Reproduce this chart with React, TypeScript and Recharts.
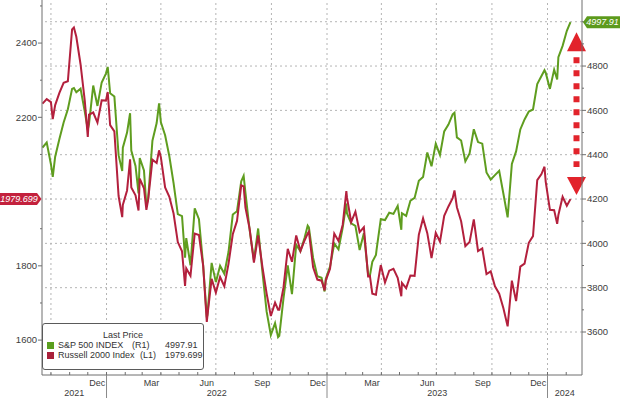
import React from 'react';
import { LineChart, Line, XAxis, YAxis, ReferenceLine, Legend } from 'recharts';

const DAY = 86400000;
const ORIGIN = Date.UTC(2021, 8, 1);
const dayOf = (ms: number) => (ms - ORIGIN) / DAY;

// weekly closes from Fri 17 Sep 2021, last point Thu 8 Feb 2024
const firstDate = Date.UTC(2021, 8, 17);
const lastDate = Date.UTC(2024, 1, 8);

const spx = [
  4432, 4455, 4357, 4391, 4471, 4545, 4605, 4697, 4682, 4698, 4595, 4538, 4712, 4620, 4726, 4766,
  4677, 4663, 4398, 4432, 4500, 4419, 4349, 4385, 4329, 4204, 4463, 4543, 4546, 4488, 4393, 4272,
  4132, 4123, 4024, 3901, 4158, 4109, 3901, 3675, 3912, 3825, 3899, 3863, 3962, 4130, 4145, 4280,
  4228, 4058, 3924, 4067, 3873, 3693, 3586, 3640, 3583, 3753, 3901, 3771, 3993, 3965, 4026, 4072,
  3934, 3852, 3845, 3840,
  3895, 3999, 3973, 4071, 4136, 4090, 4079, 3970, 4046, 3862, 3917, 3971, 4109, 4105, 4138, 4133,
  4169, 4136, 4124, 4192, 4205, 4282, 4299, 4410, 4348, 4450, 4399, 4505, 4536, 4582, 4478, 4464,
  4370, 4406, 4515, 4457, 4450, 4320, 4288, 4308, 4327, 4224, 4117, 4358, 4415, 4514, 4559, 4595,
  4604, 4719, 4755, 4770,
  4697, 4784, 4840, 4891, 4959, 4997.91,
];

const rty = [
  2237, 2249, 2241, 2233, 2266, 2293, 2297, 2437, 2417, 2343, 2245, 2207, 2213, 2186, 2246, 2245,
  2179, 2162, 1988, 1964, 2003, 2011, 1990, 2035, 2009, 1979, 2086, 2077, 2092, 2011, 1986, 1941,
  1864, 1839, 1793, 1773, 1887, 1883, 1800, 1665, 1765, 1728, 1770, 1745, 1806, 1885, 1921, 2017,
  1957, 1899, 1809, 1882, 1798, 1726, 1665, 1701, 1682, 1742, 1846, 1811, 1882, 1840, 1869, 1892,
  1796, 1763, 1760, 1761,
  1792, 1887, 1867, 1911, 1985, 1918, 1946, 1891, 1904, 1772, 1725, 1734, 1802, 1755, 1787, 1792,
  1768, 1754, 1740, 1774, 1773, 1884, 1928, 1888, 1821, 1889, 1865, 1935, 1960, 1982, 1958, 1920,
  1853, 1864, 1925, 1840, 1847, 1778, 1785, 1745, 1725, 1686, 1637, 1760, 1705, 1798, 1806, 1862,
  1880, 2031, 2047, 2027,
  1951, 1950, 1937, 1986, 1962, 1979.699,
];

// extra daily turning points between weekly closes
const extraDates = [
  '2021-10-04', '2021-11-08', '2021-12-01', '2022-01-03', '2022-01-27', '2022-02-09', '2022-02-23',
  '2022-03-08', '2022-03-29', '2022-05-11', '2022-06-16', '2022-08-16', '2022-10-12', '2022-11-30',
  '2022-12-28', '2023-02-02', '2023-03-13', '2023-03-23', '2023-05-04', '2023-07-31', '2023-12-27',
  '2024-01-17',
];
const extraSpx = [
  4300, 4701, 4513, 4796, 4326, 4587, 4225, 4170, 4632, 3935, 3666, 4305, 3577, 4080, 3783, 4180,
  3855, 3948, 4061, 4589, 4781, 4739,
];
const extraRty = [
  2195, 2442, 2147, 2268, 1931, 2087, 1949, 1951, 2111, 1746, 1649, 2014, 1682, 1887, 1734, 2001,
  1773, 1722, 1718, 2003, 2067, 1913,
];

const spxName = 'S&P 500 INDEX';
const rtyName = 'Russell 2000 Index';
const spxLast = spx[spx.length - 1];
const rtyLast = rty[rty.length - 1];

const leftTicks = [1600, 1700, 1800, 1900, 2100, 2200, 2300, 2400, 2500];
const rightTicks = [3600, 3700, 3800, 3900, 4000, 4100, 4200, 4300, 4400, 4500, 4600, 4700, 4800, 4900, 5000];
const gridValues = [3600, 3800, 4000, 4200, 4400, 4600, 4800, 5000];
const quarterMonthLabels: Record<number, string> = { 11: 'Dec', 2: 'Mar', 5: 'Jun', 8: 'Sep' };
const years = [2021, 2022, 2023, 2024];

const xDomain = [15.2, 909.1];
const leftDomain = [1506, 2516];
const rightDomain = [3406, 5098];

const isoDay = (s: string) => {
  const [y, m, d] = s.split('-').map(Number);
  return dayOf(Date.UTC(y, m - 1, d));
};

const data = [
  ...spx.map((v, i) => ({
    d: i === spx.length - 1 ? dayOf(lastDate) : dayOf(firstDate) + 7 * i,
    spx: v,
    rty: rty[i],
  })),
  ...extraDates.map((s, i) => ({ d: isoDay(s), spx: extraSpx[i], rty: extraRty[i] })),
].sort((a, b) => a.d - b.d);

// calendar ticks
type TickInfo = { kind: 'month' | 'mlabel' | 'year'; label?: string; jan?: boolean };
const xTickInfo = new Map<number, TickInfo>();
const quarterStarts: number[] = [];
{
  let y = 2021, m = 9;
  while (y < 2024 || (y === 2024 && m <= 1)) {
    const d = dayOf(Date.UTC(y, m, 1));
    xTickInfo.set(d, { kind: 'month', jan: m === 0 });
    if (m % 3 === 0) quarterStarts.push(d);
    if (quarterMonthLabels[m]) {
      const len = new Date(Date.UTC(y, m + 1, 0)).getUTCDate();
      xTickInfo.set(d + len / 2, { kind: 'mlabel', label: quarterMonthLabels[m] });
    }
    m++;
    if (m > 11) { m = 0; y++; }
  }
  years.forEach((yr) => {
    const a = Math.max(xDomain[0], dayOf(Date.UTC(yr, 0, 1)));
    const b = Math.min(xDomain[1], dayOf(Date.UTC(yr + 1, 0, 1)));
    xTickInfo.set((a + b) / 2, { kind: 'year', label: String(yr) });
  });
}
const xTicks = Array.from(xTickInfo.keys()).sort((a, b) => a - b);

const FONT = '"Liberation Sans", Arial, sans-serif';
const GREEN = '#5f9d1f';
const RED = '#b3203d';
const AXIS = '#6e6e6e';
const TEXT = '#3c3c3c';

const XTick = (props: any) => {
  const { x, y, payload } = props;
  const info = xTickInfo.get(payload.value);
  if (!info) return null;
  if (info.kind === 'month') {
    return (
      <g>
        <line x1={x} x2={x} y1={y - 3} y2={y} stroke={AXIS} />
        {info.jan && <line x1={x} x2={x} y1={y} y2={y + 23} stroke="#8a8a8a" />}
      </g>
    );
  }
  return (
    <text x={x} y={y + (info.kind === 'mlabel' ? 10.5 : 21)} textAnchor="middle" fontSize={9} fill={TEXT} fontFamily={FONT}>
      {info.label}
    </text>
  );
};

const LeftTick = (props: any) => {
  const { x, y, payload } = props;
  const v = payload.value;
  if (v === rtyLast) {
    return (
      <g>
        <path d={`M${x - 44} ${y - 6} H${x - 5} L${x - 0.5} ${y} L${x - 5} ${y + 6} H${x - 44} Z`} fill="#c3213d" />
        <text x={x - 23} y={y} dy="0.35em" textAnchor="middle" fontSize={9} fontStyle="italic" fill="#fff" fontFamily={FONT}>
          {String(v)}
        </text>
      </g>
    );
  }
  const major = v % 200 === 0;
  return (
    <g>
      <line x1={x - (major ? 4 : 2)} x2={x} y1={y} y2={y} stroke={AXIS} />
      {major && (
        <text x={x - 5} y={y} dy="0.35em" textAnchor="end" fontSize={9.5} fill={TEXT} fontFamily={FONT}>
          {v}
        </text>
      )}
    </g>
  );
};

const RightTick = (props: any) => {
  const { x, y, payload } = props;
  const v = payload.value;
  if (v === spxLast) {
    return (
      <g>
        <path d={`M${x + 1} ${y} L${x + 5} ${y - 6} H${x + 40} V${y + 6} H${x + 5} Z`} fill="#5c9a1c" />
        <text x={x + 20.5} y={y} dy="0.35em" textAnchor="middle" fontSize={9} fontStyle="italic" fill="#fff" fontFamily={FONT}>
          {String(v)}
        </text>
      </g>
    );
  }
  const major = v % 200 === 0;
  return (
    <g>
      <line x1={x} x2={x + (major ? 4 : 2)} y1={y} y2={y} stroke={AXIS} />
      {major && v !== 5000 && (
        <text x={x + 5} y={y} dy="0.35em" textAnchor="start" fontSize={9.5} fill={TEXT} fontFamily={FONT}>
          {v}
        </text>
      )}
    </g>
  );
};

const ArrowShape = (props: any) => {
  const { x1, y1, y2 } = props;
  const x = x1;
  const top = Math.min(y1, y2);
  const bot = Math.max(y1, y2);
  const c = '#e2232b';
  return (
    <g>
      <line x1={x} x2={x} y1={top + 25} y2={bot - 28} stroke={c} strokeWidth={6} strokeDasharray="6 7" />
      <polygon points={`${x},${top} ${x - 9.5},${top + 19} ${x + 9.5},${top + 19}`} fill={c} />
      <polygon points={`${x},${bot} ${x - 9.5},${bot - 18} ${x + 9.5},${bot - 18}`} fill={c} />
    </g>
  );
};

const LegendBox = () => (
  <div
    style={{
      position: 'relative',
      width: 160,
      height: 45,
      border: '1px solid #5a5a5a',
      borderRadius: 3,
      background: '#fff',
      fontFamily: FONT,
      fontSize: 9,
      color: '#333',
      lineHeight: '10px',
    }}
  >
    <span style={{ position: 'absolute', left: 0, width: 160, top: 6, textAlign: 'center' }}>Last Price</span>
    <span style={{ position: 'absolute', left: 4, top: 18, width: 7, height: 7, background: '#5a9e1e' }} />
    <span style={{ position: 'absolute', left: 15, top: 16 }}>{spxName}</span>
    <span style={{ position: 'absolute', left: 89, top: 16 }}>(R1)</span>
    <span style={{ position: 'absolute', left: 122, top: 16 }}>{String(spxLast)}</span>
    <span style={{ position: 'absolute', left: 4, top: 28, width: 7, height: 7, background: '#a8203a' }} />
    <span style={{ position: 'absolute', left: 15, top: 26 }}>{rtyName}</span>
    <span style={{ position: 'absolute', left: 97, top: 26 }}>(L1)</span>
    <span style={{ position: 'absolute', left: 122, top: 26 }}>{String(rtyLast)}</span>
  </div>
);

export default function App() {
  return (
    <div style={{ position: 'absolute', left: 0, top: 0, width: 620, height: 398, background: '#fff' }}>
      <LineChart width={620} height={398} data={data} margin={{ top: 0, right: 0, bottom: 0, left: 0 }}>
        <XAxis
          dataKey="d"
          type="number"
          domain={xDomain}
          allowDataOverflow
          ticks={xTicks}
          interval={0}
          tick={<XTick />}
          tickLine={false}
          tickSize={0}
          tickMargin={0}
          axisLine={{ stroke: AXIS }}
          height={23}
        />
        <YAxis
          yAxisId="left"
          orientation="left"
          type="number"
          domain={leftDomain}
          allowDataOverflow
          ticks={[...leftTicks, rtyLast]}
          interval={0}
          tick={<LeftTick />}
          tickLine={false}
          tickSize={0}
          tickMargin={0}
          axisLine={{ stroke: AXIS }}
          width={42}
        />
        <YAxis
          yAxisId="right"
          orientation="right"
          type="number"
          domain={rightDomain}
          allowDataOverflow
          ticks={[...rightTicks, spxLast]}
          interval={0}
          tick={<RightTick />}
          tickLine={false}
          tickSize={0}
          tickMargin={0}
          axisLine={{ stroke: AXIS }}
          width={38}
        />
        {gridValues.map((v) => (
          <ReferenceLine key={'h' + v} yAxisId="right" y={v} stroke="#b4b4b4" strokeDasharray="2 3" />
        ))}
        {quarterStarts.map((d) => (
          <ReferenceLine key={'v' + d} yAxisId="right" x={d} stroke="#b4b4b4" strokeDasharray="2 3" />
        ))}
        <Line yAxisId="right" type="linear" dataKey="spx" stroke={GREEN} strokeWidth={2} dot={false} isAnimationActive={false} />
        <Line yAxisId="left" type="linear" dataKey="rty" stroke={RED} strokeWidth={2} dot={false} isAnimationActive={false} />
        <ReferenceLine
          yAxisId="right"
          segment={[{ x: 900, y: 4953 }, { x: 900, y: 4218 }]}
          ifOverflow="visible"
          shape={<ArrowShape />}
        />
        <Legend
          layout="vertical"
          align="center"
          verticalAlign="middle"
          content={() => <LegendBox />}
          wrapperStyle={{ left: 42, top: 323, width: 162, height: 47 }}
        />
      </LineChart>
    </div>
  );
}
